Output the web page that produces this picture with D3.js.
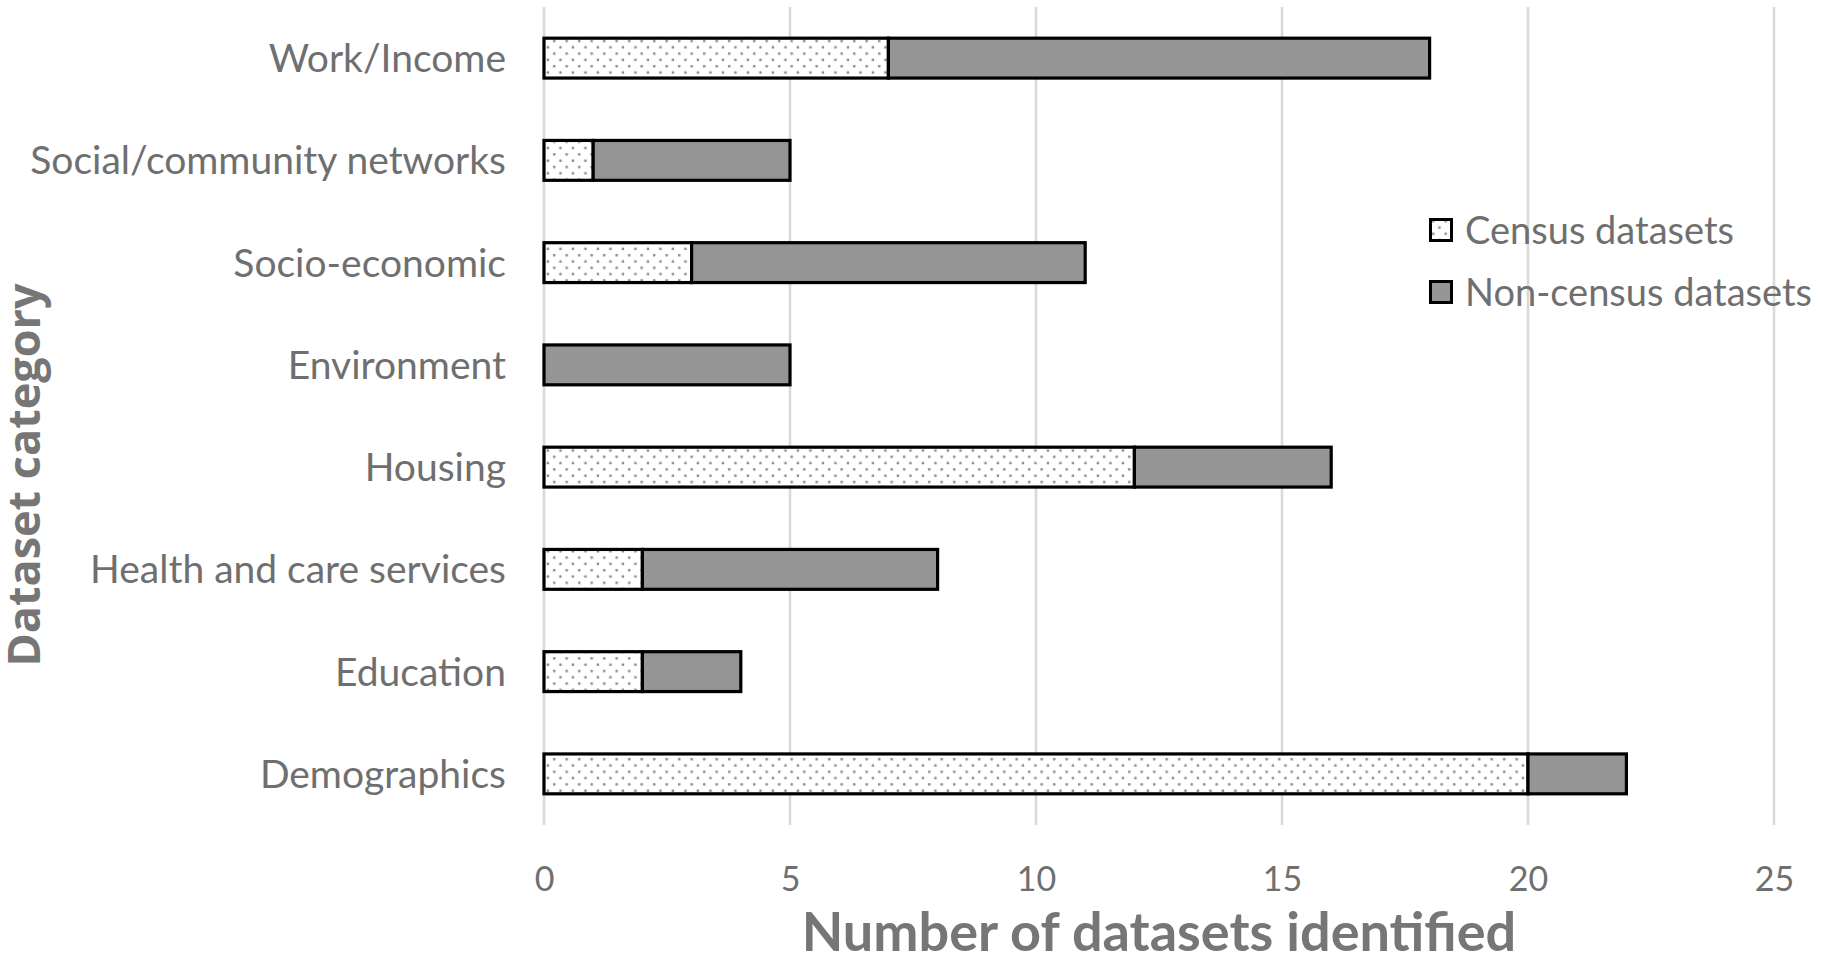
<!DOCTYPE html>
<html>
<head>
<meta charset="utf-8">
<script src="https://cdn.jsdelivr.net/npm/d3@7"></script>
<style>
  body { margin: 0; background: #fff; }
  svg { display: block; }
  .lbl { font-family: Lato, "Noto Sans", sans-serif; fill: #6f6f6f; }
</style>
</head>
<body>
<div id="chart"></div>
<script>
const categories = ['Work/Income', 'Social/community networks', 'Socio-economic', 'Environment',
  'Housing', 'Health and care services', 'Education', 'Demographics'];
const censusValues = [7, 1, 3, 0, 12, 2, 2, 20];
const nonCensusValues = [11, 4, 8, 5, 4, 6, 2, 2];
const seriesNames = ['Census datasets', 'Non-census datasets'];
const xTicks = [0, 5, 10, 15, 20, 25];

const size = { width: 1821, height: 965 };
const plot = { left: 544, right: 1774, top: 7, bottom: 825 };

const rows = categories.map((c, i) => ({
  category: c,
  census: censusValues[i],
  nonCensus: nonCensusValues[i]
}));

const stack = d3.stack().keys(['census', 'nonCensus'])(rows);

const x = d3.scaleLinear()
  .domain([0, 25])
  .range([plot.left, plot.right]);

const y = d3.scaleBand()
  .domain(categories)
  .range([plot.top, plot.bottom])
  .paddingInner(0.61)
  .paddingOuter(0.305);

const svg = d3.select('#chart')
  .append('svg')
  .attr('width', size.width)
  .attr('height', size.height);

// dotted fill for the census part
const pattern = svg.append('defs')
  .append('pattern')
  .attr('id', 'dots')
  .attr('patternUnits', 'userSpaceOnUse')
  .attr('width', 12.5)
  .attr('height', 12.6);
pattern.append('rect').attr('width', 12.5).attr('height', 12.6).attr('fill', '#fff');
pattern.append('rect').attr('x', 3).attr('y', 2).attr('width', 2.4).attr('height', 2.4).attr('fill', '#8a8a8a');
pattern.append('rect').attr('x', 9.25).attr('y', 8.3).attr('width', 2.4).attr('height', 2.4).attr('fill', '#8a8a8a');

const fills = ['url(#dots)', '#959595'];

// gridlines
svg.append('g')
  .selectAll('line')
  .data(xTicks)
  .enter().append('line')
    .attr('x1', d => x(d))
    .attr('x2', d => x(d))
    .attr('y1', plot.top)
    .attr('y2', plot.bottom)
    .attr('stroke', '#d9d9d9')
    .attr('stroke-width', 2.6);

// bars
svg.append('g')
  .selectAll('g')
  .data(stack)
  .enter().append('g')
    .attr('fill', (d, i) => fills[i])
  .selectAll('rect')
  .data(d => d.filter(s => s[1] > s[0]))
  .enter().append('rect')
    .attr('x', d => x(d[0]))
    .attr('y', d => y(d.data.category))
    .attr('width', d => x(d[1]) - x(d[0]))
    .attr('height', y.bandwidth())
    .attr('stroke', '#000')
    .attr('stroke-width', 3.2);

// category labels
const yAxis = d3.axisLeft(y).tickSize(0).tickPadding(38);
const yg = svg.append('g')
  .attr('transform', 'translate(' + plot.left + ',0)')
  .call(yAxis);
yg.select('.domain').remove();
yg.selectAll('text')
  .attr('class', 'lbl')
  .style('font-size', '39px')
  .attr('dy', '0.36em');

// value axis labels
const xAxis = d3.axisBottom(x).tickValues(xTicks).tickSize(0).tickPadding(0);
const xg = svg.append('g')
  .attr('transform', 'translate(0,' + 879 + ')')
  .call(xAxis);
xg.select('.domain').remove();
xg.selectAll('text')
  .attr('class', 'lbl')
  .style('font-size', '34px')
  .attr('dy', '0.36em');

// axis titles
svg.append('text')
  .attr('class', 'lbl')
  .attr('x', (plot.left + plot.right) / 2)
  .attr('y', 932)
  .attr('dy', '0.36em')
  .attr('text-anchor', 'middle')
  .style('font-size', '54px')
  .style('font-weight', 'bold')
  .style('fill', '#767676')
  .text('Number of datasets identified');

svg.append('text')
  .attr('class', 'lbl')
  .attr('transform', 'translate(40,475) rotate(-90)')
  .attr('text-anchor', 'middle')
  .style('font-family', '"Open Sans", sans-serif')
  .style('font-size', '45px')
  .style('font-weight', 'bold')
  .style('fill', '#767676')
  .text('Dataset category');

// legend
const legend = svg.append('g')
  .selectAll('g')
  .data(seriesNames)
  .enter().append('g')
    .attr('transform', (d, i) => 'translate(1429,' + (218 + i * 62) + ')');

legend.append('rect')
  .attr('x', 1.5)
  .attr('y', 1.5)
  .attr('width', 21)
  .attr('height', 21)
  .attr('fill', (d, i) => fills[i])
  .attr('stroke', '#000')
  .attr('stroke-width', 3);

legend.append('text')
  .attr('class', 'lbl')
  .attr('x', 36)
  .attr('y', 12)
  .attr('dy', '0.36em')
  .style('font-size', '38px')
  .text(d => d);
</script>
</body>
</html>
